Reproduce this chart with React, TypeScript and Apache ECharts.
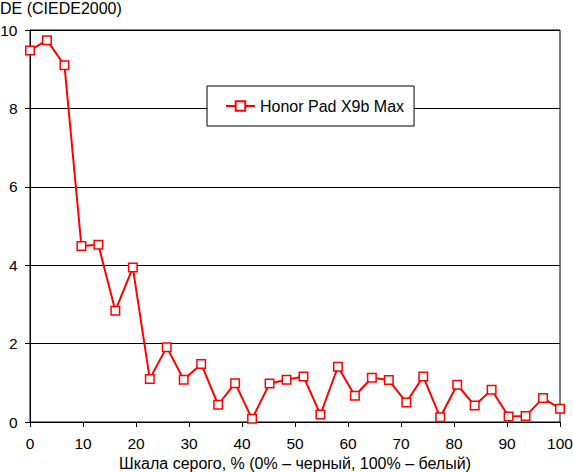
import { useEffect, useRef } from "react";
import * as echarts from "echarts";

const seriesName = "Honor Pad X9b Max";
const grayLevels = [
  0, 3.2, 6.5, 9.7, 12.9, 16.1, 19.4, 22.6, 25.8, 29.0, 32.3, 35.5, 38.7, 41.9, 45.2, 48.4,
  51.6, 54.8, 58.1, 61.3, 64.5, 67.7, 71.0, 74.2, 77.4, 80.6, 83.9, 87.1, 90.3, 93.5, 96.8, 100,
];
const deltaE = [
  9.48, 9.74, 9.1, 4.49, 4.52, 2.84, 3.94, 1.1, 1.91, 1.08, 1.48, 0.44, 0.99, 0.08, 0.98, 1.08,
  1.16, 0.19, 1.41, 0.67, 1.13, 1.07, 0.5, 1.16, 0.12, 0.95, 0.42, 0.82, 0.14, 0.15, 0.61, 0.34,
];
const yAxisTitle = "DE (CIEDE2000)";
const xAxisTitle = "Шкала серого, % (0% – черный, 100% – белый)";

const FONT = '"Liberation Sans", Arial, sans-serif';

export default function App() {
  const ref = useRef<HTMLDivElement>(null);
  useEffect(() => {
    if (!ref.current) return;
    const chart = echarts.init(ref.current, undefined, { renderer: "svg" });
    const data = grayLevels.map((x, i) => [x, deltaE[i]]);
    chart.setOption({
      animation: false,
      backgroundColor: "#fff",
      textStyle: { fontFamily: FONT, color: "#000" },
      grid: {
        left: 30,
        right: 13,
        top: 30,
        bottom: 50,
        containLabel: false,
        outerBoundsMode: "none",
        show: true,
        borderColor: "#000",
        borderWidth: 1,
        backgroundColor: "transparent",
      },
      xAxis: {
        type: "value",
        min: 0,
        max: 100,
        interval: 10,
        axisLine: { show: true, lineStyle: { color: "#000", width: 1 } },
        axisTick: { show: true, length: 5, lineStyle: { color: "#000", width: 1 } },
        axisLabel: { color: "#000", fontSize: 15.5, margin: 13, fontFamily: FONT },
        splitLine: { show: false },
        name: xAxisTitle,
        nameLocation: "middle",
        nameGap: 30,
        nameTextStyle: { color: "#000", fontSize: 16, fontFamily: FONT },
      },
      yAxis: {
        type: "value",
        min: 0,
        max: 10,
        interval: 2,
        axisLine: { show: true, lineStyle: { color: "#000", width: 1 } },
        axisTick: { show: true, length: 5, lineStyle: { color: "#000", width: 1 } },
        axisLabel: { color: "#000", fontSize: 15.5, margin: 12.5, fontFamily: FONT },
        splitLine: { show: true, lineStyle: { color: "#000", width: 1 } },
      },
      legend: {
        left: 207,
        top: 86,
        orient: "horizontal",
        backgroundColor: "#fff",
        borderColor: "#000",
        borderWidth: 1,
        borderRadius: 0,
        padding: [12, 10, 12, 18],
        itemWidth: 29,
        itemHeight: 12,
        textStyle: { color: "#000", fontSize: 16, fontFamily: FONT },
        data: [seriesName],
      },
      graphic: [
        {
          type: "text",
          left: 0,
          top: 0,
          style: { text: yAxisTitle, font: `16px ${FONT}`, fill: "#000" },
        },
      ],
      series: [
        {
          type: "line",
          name: seriesName,
          data,
          color: "#ff0000",
          symbol: "rect",
          symbolSize: 8.5,
          lineStyle: { color: "#ff0000", width: 2 },
          itemStyle: { color: "#fff", borderColor: "#ff0000", borderWidth: 1.5 },
        },
      ],
    });
    return () => chart.dispose();
  }, []);
  return (
    <div
      ref={ref}
      style={{ position: "absolute", left: 0, top: 0, width: 573, height: 472 }}
    />
  );
}
